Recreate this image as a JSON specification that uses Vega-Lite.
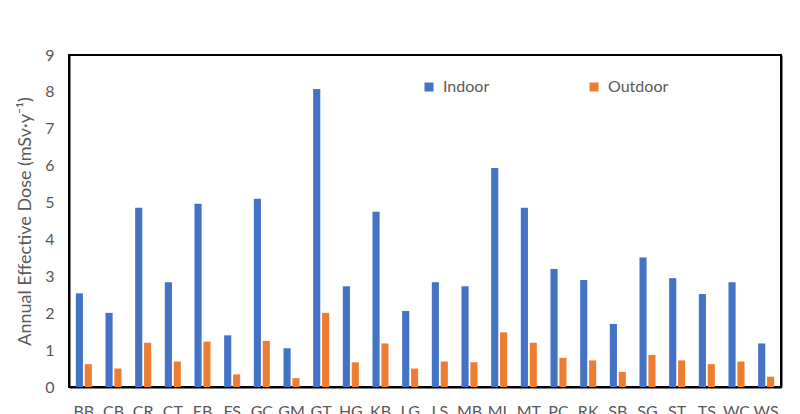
{
  "$schema": "https://vega.github.io/schema/vega-lite/v6.json",
  "width": 712,
  "height": 332,
  "padding": {"left": 16, "top": 14, "right": 16, "bottom": 3},
  "background": "white",
  "config": {
    "font": "Lato",
    "view": {"stroke": "black", "strokeWidth": 2},
    "axis": {
      "labelColor": "#595959",
      "titleColor": "#595959",
      "labelFont": "Lato",
      "titleFont": "Lato",
      "labelFontSize": 16,
      "titleFontSize": 18,
      "titleFontWeight": "normal",
      "domainColor": "black",
      "domainWidth": 2,
      "ticks": false,
      "tickSize": 0,
      "grid": false
    }
  },
  "data": {
    "values": [
      {"code": "BB", "type": "Indoor", "dose": 2.54}, {"code": "BB", "type": "Outdoor", "dose": 0.62},
      {"code": "CB", "type": "Indoor", "dose": 2.01}, {"code": "CB", "type": "Outdoor", "dose": 0.50},
      {"code": "CR", "type": "Indoor", "dose": 4.86}, {"code": "CR", "type": "Outdoor", "dose": 1.20},
      {"code": "CT", "type": "Indoor", "dose": 2.84}, {"code": "CT", "type": "Outdoor", "dose": 0.69},
      {"code": "EB", "type": "Indoor", "dose": 4.97}, {"code": "EB", "type": "Outdoor", "dose": 1.23},
      {"code": "FS", "type": "Indoor", "dose": 1.40}, {"code": "FS", "type": "Outdoor", "dose": 0.34},
      {"code": "GC", "type": "Indoor", "dose": 5.10}, {"code": "GC", "type": "Outdoor", "dose": 1.25},
      {"code": "GM", "type": "Indoor", "dose": 1.05}, {"code": "GM", "type": "Outdoor", "dose": 0.24},
      {"code": "GT", "type": "Indoor", "dose": 8.08}, {"code": "GT", "type": "Outdoor", "dose": 2.01},
      {"code": "HG", "type": "Indoor", "dose": 2.73}, {"code": "HG", "type": "Outdoor", "dose": 0.67},
      {"code": "KB", "type": "Indoor", "dose": 4.75}, {"code": "KB", "type": "Outdoor", "dose": 1.18},
      {"code": "LG", "type": "Indoor", "dose": 2.06}, {"code": "LG", "type": "Outdoor", "dose": 0.50},
      {"code": "LS", "type": "Indoor", "dose": 2.84}, {"code": "LS", "type": "Outdoor", "dose": 0.69},
      {"code": "MB", "type": "Indoor", "dose": 2.73}, {"code": "MB", "type": "Outdoor", "dose": 0.67},
      {"code": "ML", "type": "Indoor", "dose": 5.94}, {"code": "ML", "type": "Outdoor", "dose": 1.48},
      {"code": "MT", "type": "Indoor", "dose": 4.86}, {"code": "MT", "type": "Outdoor", "dose": 1.20},
      {"code": "PC", "type": "Indoor", "dose": 3.20}, {"code": "PC", "type": "Outdoor", "dose": 0.79},
      {"code": "RK", "type": "Indoor", "dose": 2.90}, {"code": "RK", "type": "Outdoor", "dose": 0.72},
      {"code": "SB", "type": "Indoor", "dose": 1.71}, {"code": "SB", "type": "Outdoor", "dose": 0.41},
      {"code": "SG", "type": "Indoor", "dose": 3.51}, {"code": "SG", "type": "Outdoor", "dose": 0.87},
      {"code": "ST", "type": "Indoor", "dose": 2.95}, {"code": "ST", "type": "Outdoor", "dose": 0.72},
      {"code": "TS", "type": "Indoor", "dose": 2.52}, {"code": "TS", "type": "Outdoor", "dose": 0.62},
      {"code": "WC", "type": "Indoor", "dose": 2.84}, {"code": "WC", "type": "Outdoor", "dose": 0.69},
      {"code": "WS", "type": "Indoor", "dose": 1.18}, {"code": "WS", "type": "Outdoor", "dose": 0.28}
    ]
  },
  "layer": [
    {
      "mark": {"type": "bar"},
      "encoding": {
        "x": {
          "field": "code",
          "type": "nominal",
          "sort": null,
          "title": "Building Material Code",
          "scale": {"paddingInner": 0.46, "paddingOuter": 0.23},
          "axis": {"labelAngle": 0, "labelPadding": 16, "titlePadding": 5}
        },
        "xOffset": {
          "field": "type",
          "type": "nominal",
          "scale": {"paddingInner": 0.2, "paddingOuter": 0}
        },
        "y": {
          "field": "dose",
          "type": "quantitative",
          "title": "Annual Effective  Dose (mSv·y⁻¹)",
          "scale": {"domain": [0, 9], "nice": false},
          "axis": {"orient": "left", "values": [0, 1, 2, 3, 4, 5, 6, 7, 8, 9], "labelPadding": 15, "titlePadding": 10}
        },
        "color": {
          "field": "type",
          "type": "nominal",
          "scale": {"domain": ["Indoor", "Outdoor"], "range": ["#4472C4", "#ED7D31"]},
          "legend": {
            "title": null,
            "orient": "none",
            "direction": "horizontal",
            "legendX": 352,
            "legendY": 24,
            "symbolType": "square",
            "symbolSize": 81,
            "symbolStrokeWidth": 0,
            "labelFont": "Lato",
            "labelFontSize": 16,
            "labelColor": "#595959",
            "labelOffset": 6,
            "columnPadding": 96
          }
        }
      }
    },
    {
      "mark": {"type": "bar", "opacity": 0},
      "encoding": {
        "x": {"field": "code", "type": "nominal", "sort": null},
        "y": {
          "field": "dose",
          "type": "quantitative",
          "axis": {
            "orient": "right",
            "title": null,
            "labels": false,
            "labelExpr": "''",
            "labelOpacity": 0,
            "labelPadding": 0,
            "domain": true,
            "domainColor": "black",
            "domainWidth": 2
          }
        }
      }
    },
    {
      "mark": {"type": "rule", "color": "black", "strokeWidth": 2},
      "encoding": {"y": {"datum": 9, "axis": null}}
    }
  ],
  "resolve": {"axis": {"y": "independent"}}
}
